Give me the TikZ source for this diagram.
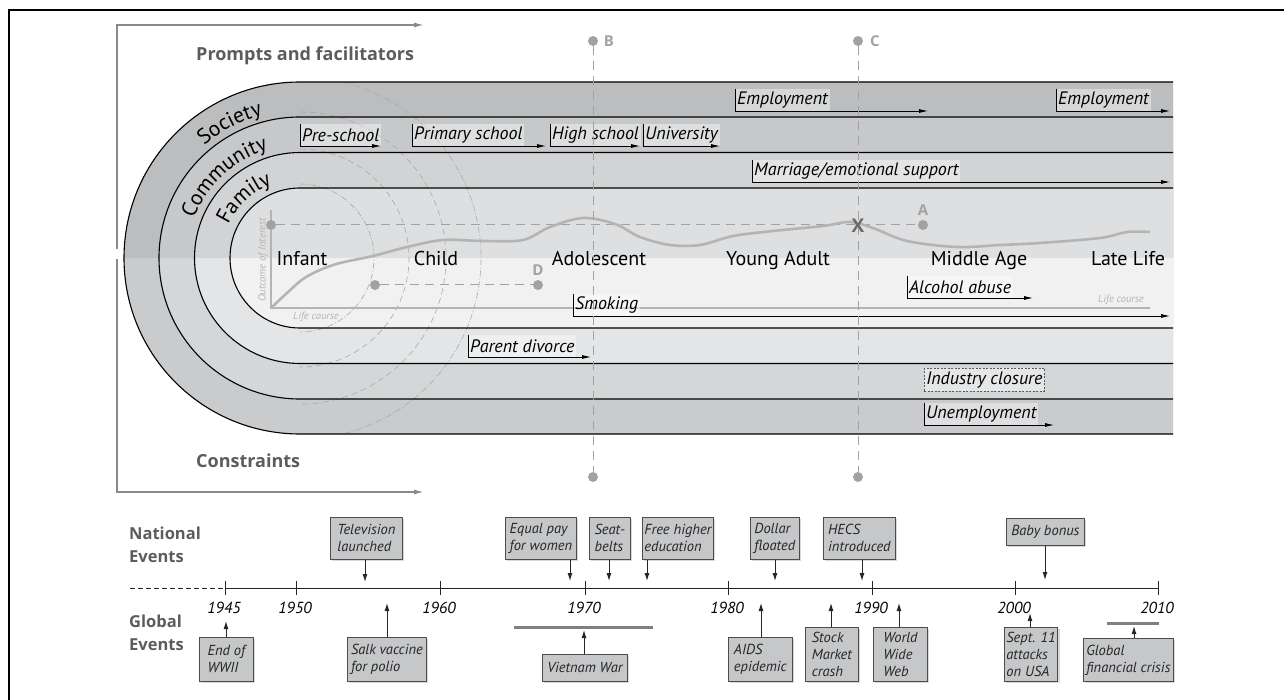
\documentclass[tikz,border=0pt]{standalone}
\usepackage{fontspec}
\setmainfont{PT Sans}
\newfontfamily\headfont{Open Sans}
\usetikzlibrary{arrows.meta,shadows,decorations.text}
\definecolor{socT}{HTML}{BCBDBF}
\definecolor{socB}{HTML}{CACBCD}
\definecolor{comT}{HTML}{C7C8CA}
\definecolor{comB}{HTML}{D5D6D8}
\definecolor{famT}{HTML}{D2D3D5}
\definecolor{famB}{HTML}{E4E5E6}
\definecolor{innT}{HTML}{DEDFE0}
\definecolor{innB}{HTML}{F1F1F1}
\definecolor{boxgray}{HTML}{C6C7C9}
\definecolor{headgray}{HTML}{5C5C5C}
\definecolor{markgray}{HTML}{A2A2A2}
\definecolor{curvegray}{HTML}{B4B4B4}
\definecolor{framegray}{HTML}{8A8A8A}
\definecolor{ripple}{HTML}{A8A8A8}
\begin{document}
\begin{tikzpicture}[x=1pt,y=-1pt,
  trackline/.style={line width=1.1pt, black},
  ripdash/.style={ripple, line width=0.6pt, dash pattern=on 6pt off 4pt},
  ripdot/.style={ripple, line width=0.6pt, dash pattern=on 6pt off 2pt on 1pt off 2pt},
  markline/.style={markgray, line width=1pt, dash pattern=on 9pt off 6pt},
  markdot/.style={circle, fill=markgray, inner sep=0pt, minimum size=10pt},
  marklabel/.style={markgray, font=\headfont\bfseries\fontsize{15}{15}\selectfont, inner sep=0pt},
  stagelabel/.style={font=\fontsize{20}{20}\selectfont, anchor=base, inner sep=0pt},
  trklabel/.style={anchor=south west, font=\itshape\fontsize{18}{18}\selectfont, fill=white, fill opacity=0.4, text opacity=1, inner xsep=2pt, inner ysep=0pt, minimum height=22pt},
  trkarrow/.style={black, line width=0.8pt, -{Latex[length=9pt,width=4pt]}},
  heading/.style={headgray, font=\headfont\bfseries\fontsize{18}{23}\selectfont, inner sep=0pt, align=left},
  subheading/.style={headgray, font=\headfont\bfseries\fontsize{16.5}{23}\selectfont, inner sep=0pt, align=left},
  framearrow/.style={framegray, line width=1.4pt, -{Latex[length=10pt,width=5pt]}},
  evbox/.style={draw=black!70, fill=boxgray, line width=0.8pt, anchor=north west, align=left, font=\itshape\fontsize{14.5}{17}\selectfont, inner xsep=2pt, inner ysep=2pt, text=black!85, drop shadow={shadow xshift=2pt, shadow yshift=-2pt, opacity=0.3}},
  tlarrow/.style={black!85, line width=1pt, -{Latex[length=8pt,width=5pt]}},
  year/.style={font=\itshape\fontsize{16}{16}\selectfont, inner sep=0pt},
  bar/.style={black!50, line width=3pt},
  smalllab/.style={curvegray, font=\itshape\fontsize{10.5}{10.5}\selectfont, inner sep=0pt},
]
\useasboundingbox (0,0) rectangle (1284,700);
% outer frame
\draw[black, line width=1.3pt] (9,700) -- (9,10) -- (1284,10);
% gray L arrows
\coordinate (lt0) at (117,249);
\coordinate (lt1) at (117,25);
\coordinate (lt2) at (424,25);
\coordinate (lb0) at (117,259);
\coordinate (lb1) at (117,492);
\coordinate (lb2) at (424,492);
\draw[framearrow] (lt0) -- (lt1) -- (lt2);
\draw[framearrow] (lb0) -- (lb1) -- (lb2);
% track fills
\foreach \r/\ct/\cb in {176/socT/socB, 141/comT/comB, 105.5/famT/famB, 70/innT/innB}{
  \fill[\cb] (1173,258-\r) -- (300,258-\r) arc[start angle=90,end angle=270,radius=\r*1pt] -- (1173,258+\r) -- cycle;
  \begin{scope}
    \clip (0,0) rectangle (1284,258);
    \fill[\ct] (1173,258-\r) -- (300,258-\r) arc[start angle=90,end angle=270,radius=\r*1pt] -- (1173,258+\r) -- cycle;
  \end{scope}
}
% ripple arcs
\begin{scope}
  \clip (1173,82) -- (300,82) arc[start angle=90,end angle=270,radius=176pt] -- (1173,434) -- cycle;
  \draw[ripdot] (300,184) arc[start angle=90,end angle=-90,radius=74pt];
  \draw[ripdash] (300,149) arc[start angle=90,end angle=-90,radius=109pt];
  \draw[ripdash] (300,112) arc[start angle=90,end angle=-90,radius=146pt];
  \draw[ripdot] (300,77) arc[start angle=90,end angle=-90,radius=181pt];
\end{scope}
% track boundaries
\foreach \r in {176,141,105.5,70}{
  \draw[trackline] (1173,258-\r) -- (300,258-\r) arc[start angle=90,end angle=270,radius=\r*1pt] -- (1173,258+\r);
}
% mini graph
\draw[curvegray, line width=2pt] (271,210) -- (271,308) -- (1150,308);
\node[smalllab, rotate=90] (yl) at (263,260) {Outcome of Interest};
\node[smalllab] (xl1) at (316,317) {Life course};
\node[smalllab] (xl2) at (1121,300) {Life course};
\node[markdot] (a0) at (271,225) {};
\node[markdot] (a1) at (923,225) {};
\draw[markline] (a0) -- (a1);
\node[marklabel] (alab) at (923,210) {A};
\node[markdot] (d0) at (375,285) {};
\node[markdot] (d1) at (538,285) {};
\draw[markline] (d0) -- (d1);
\node[marklabel] (dlab) at (538,270) {D};
\draw[curvegray, line width=2.6pt] plot[smooth, tension=0.55] coordinates {(271,308) (287,293) (303,279) (320,270) (340,263) (373,256) (407,247) (443,240) (483,241) (523,240) (550,227) (583,218) (615,224) (640,237) (670,245) (700,245) (733,236) (773,231) (823,226) (850,222) (873,228) (907,241) (957,247) (1000,245) (1040,243) (1100,238) (1127,232) (1150,232)};
% stage labels
\node[stagelabel] (infant) at (302,266) {Infant};
\node[stagelabel] (child) at (436,266) {Child};
\node[stagelabel] (adol) at (599,266) {Adolescent};
\node[stagelabel] (young) at (778,266) {Young Adult};
\node[stagelabel] (middle) at (979,266) {Middle Age};
\node[stagelabel] (late) at (1128,266) {Late Life};
% track labels
\node[trklabel] (emp1) at (735,111) {Employment};
\coordinate (emp1e) at (928,111);
\draw[trkarrow] (emp1.north west) -- (emp1.south west) -- (emp1e);
\node[trklabel] (emp2) at (1056,111) {Employment};
\coordinate (emp2e) at (1170,111);
\draw[trkarrow] (emp2.north west) -- (emp2.south west) -- (emp2e);
\node[trklabel] (pre) at (300,146) {Pre-school};
\coordinate (pree) at (381,146);
\draw[trkarrow] (pre.north west) -- (pre.south west) -- (pree);
\node[trklabel] (prim) at (412,146) {Primary school};
\coordinate (prime) at (546,146);
\draw[trkarrow] (prim.north west) -- (prim.south west) -- (prime);
\node[trklabel] (high) at (550,146) {High school};
\coordinate (highe) at (640,146);
\draw[trkarrow] (high.north west) -- (high.south west) -- (highe);
\node[trklabel] (univ) at (643,146) {University};
\coordinate (unive) at (720,146);
\draw[trkarrow] (univ.north west) -- (univ.south west) -- (unive);
\node[trklabel] (marr) at (752,182) {Marriage/emotional support};
\coordinate (marre) at (1170,182);
\draw[trkarrow] (marr.north west) -- (marr.south west) -- (marre);
\node[trklabel] (smok) at (573,316) {Smoking};
\coordinate (smoke) at (1170,316);
\draw[trkarrow] (smok.north west) -- (smok.south west) -- (smoke);
\node[trklabel] (alc) at (907,298) {Alcohol abuse};
\coordinate (alce) at (1033,298);
\draw[trkarrow] (alc.north west) -- (alc.south west) -- (alce);
\node[trklabel] (div) at (468,357) {Parent divorce};
\coordinate (dive) at (591,357);
\draw[trkarrow] (div.north west) -- (div.south west) -- (dive);
\node[trklabel, anchor=north west, draw=black!65, dash pattern=on 2pt off 1.5pt, line width=0.7pt, draw opacity=1, minimum height=23pt] (indus) at (924,368) {Industry closure};
\node[trklabel] (unemp) at (924,425) {Unemployment};
\coordinate (unempe) at (1054,425);
\draw[trkarrow] (unemp.north west) -- (unemp.south west) -- (unempe);
% B and C lines
\node[markdot] (b0) at (593,41) {};
\node[markdot] (b1) at (593,477) {};
\draw[markline] (b0) -- (b1);
\node[marklabel] (blab) at (609,41) {B};
\node[markdot] (c0) at (858,41) {};
\node[markdot] (c1) at (858,477) {};
\draw[markline] (c0) -- (c1);
\node[marklabel] (clab) at (875,41) {C};
\node[text=black!58, font=\headfont\bfseries\fontsize{19}{19}\selectfont, inner sep=0pt] (xmark) at (858,226) {X};
% headings
\node[heading, anchor=base west] (prompts) at (196,61) {Prompts and facilitators};
\node[heading, anchor=base west] (constr) at (196,467) {Constraints};
% band names
\path[decorate, decoration={text along path, text align=center, text={|\fontsize{21.5}{21.5}\selectfont|Society}}] ([shift={(145:148pt)}]300,258) arc[start angle=145,end angle=90,radius=148pt];
\path[decorate, decoration={text along path, text align=center, text={|\fontsize{21.5}{21.5}\selectfont|Community}}] ([shift={(178:113pt)}]300,258) arc[start angle=178,end angle=88,radius=113pt];
\path[decorate, decoration={text along path, text align=center, text={|\fontsize{21.5}{21.5}\selectfont|Family}}] ([shift={(175:79pt)}]300,258) arc[start angle=175,end angle=91,radius=79pt];
% timeline
\node[subheading, anchor=west] (natl) at (129,545) {National\\Events};
\node[subheading, anchor=west] (glob) at (129,633) {Global\\Events};
\coordinate (tl0) at (130,588);
\coordinate (tl1) at (225,588);
\coordinate (tl2) at (1158,588);
\draw[black!85, line width=1pt, dash pattern=on 5pt off 3pt] (tl0) -- (tl1);
\draw[black!85, line width=1pt] (tl1) -- (tl2);
\foreach \x/\yr in {225/1945, 296/1950, 440/1960, 585/1970, 728/1980, 872/1990, 1015/2000, 1158/2010}{
  \draw[black!85, line width=1pt] (\x,581) -- (\x,595);
  \node[year] (y\yr) at (\x-1,608) {\yr};
}
\draw[bar] (514,627) -- (653,627);
\draw[bar] (1107,623) -- (1159,623);
% national events
\node[evbox, minimum width=72pt, minimum height=42pt] (tv) at (330,517) {Television\\launched};
\coordinate (tvt) at (365,582);
\draw[tlarrow] (tv.south -| tvt) -- (tvt);
\node[evbox, minimum width=71pt, minimum height=42pt] (eq) at (505,517) {Equal pay\\for women};
\coordinate (eqt) at (570,581);
\draw[tlarrow] (eq.south -| eqt) -- (eqt);
\node[evbox, minimum width=41pt, minimum height=42pt] (seat) at (589,517) {Seat-\\belts};
\coordinate (seatt) at (609,581);
\draw[tlarrow] (seat.south -| seatt) -- (seatt);
\node[evbox, minimum width=71pt, minimum height=42pt] (free) at (642,517) {Free higher\\education};
\coordinate (freet) at (647,581);
\draw[tlarrow] (free.south -| freet) -- (freet);
\node[evbox, minimum width=49pt, minimum height=42pt] (dollar) at (750,517) {Dollar\\floated};
\coordinate (dollart) at (775,581);
\draw[tlarrow] (dollar.south -| dollart) -- (dollart);
\node[evbox, minimum width=72pt, minimum height=42pt] (hecs) at (823,517) {HECS\\introduced};
\coordinate (hecst) at (862,581);
\draw[tlarrow] (hecs.south -| hecst) -- (hecst);
\node[evbox, minimum width=78pt, minimum height=27pt] (baby) at (1006,518) {Baby bonus};
\coordinate (babyt) at (1045,580);
\draw[tlarrow] (baby.south -| babyt) -- (babyt);
% global events
\node[evbox, minimum width=54pt, minimum height=44pt] (wwii) at (199,637) {End of\\WWII};
\coordinate (wwiit) at (226,621);
\draw[tlarrow] (wwii.north -| wwiit) -- (wwiit);
\node[evbox, minimum width=79pt, minimum height=44pt] (salk) at (347,637) {Salk vaccine\\ for polio};
\coordinate (salkt) at (387,603);
\draw[tlarrow] (salk.north -| salkt) -- (salkt);
\node[evbox, minimum width=85pt, minimum height=27pt] (viet) at (542,654) {Vietnam War};
\coordinate (viett) at (584,630);
\draw[tlarrow] (viet.north -| viett) -- (viett);
\node[evbox, minimum width=64pt, minimum height=44pt] (aids) at (728,637) {AIDS\\epidemic};
\coordinate (aidst) at (761,603);
\draw[tlarrow] (aids.north -| aidst) -- (aidst);
\node[evbox, minimum width=53pt, minimum height=54pt] (stock) at (805,627) {Stock\\Market\\crash};
\coordinate (stockt) at (831,603);
\draw[tlarrow] (stock.north -| stockt) -- (stockt);
\node[evbox, minimum width=54pt, minimum height=54pt] (www) at (873,627) {World\\Wide\\Web};
\coordinate (wwwt) at (899,603);
\draw[tlarrow] (www.north -| wwwt) -- (wwwt);
\node[evbox, minimum width=53pt, minimum height=54pt] (sept) at (1004,627) {Sept. 11\\attacks\\on USA};
\coordinate (septt) at (1030,613);
\draw[tlarrow] (sept.north -| septt) -- (septt);
\node[evbox, minimum width=90pt, minimum height=43pt] (gfc) at (1083,638) {Global\\financial crisis};
\coordinate (gfct) at (1134,626);
\draw[tlarrow] (gfc.north -| gfct) -- (gfct);
\end{tikzpicture}
\end{document}
